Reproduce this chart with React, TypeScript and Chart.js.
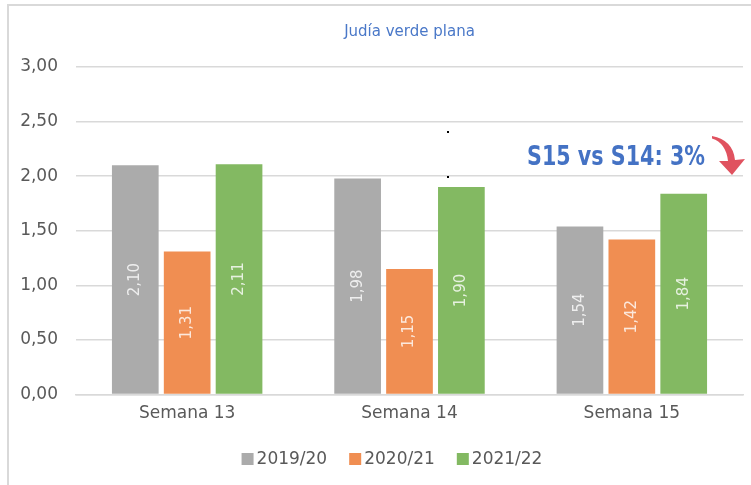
import React, { useEffect, useRef } from "react";
import { Chart, registerables } from "chart.js";

Chart.register(...registerables);

const categories = ["Semana 13", "Semana 14", "Semana 15"];
const seriesLabels = ["2019/20", "2020/21", "2021/22"];
const values1920 = [2.1, 1.98, 1.54];
const values2021 = [1.31, 1.15, 1.42];
const values2122 = [2.11, 1.9, 1.84];
const seriesColors = ["#ABABAB", "#F08E52", "#83B962"];
const yMin = 0;
const yMax = 3;
const yStep = 0.5;
const titleText = "Judía verde plana";
const annotationText = "S15 vs S14: 3%";

const FONT = "'DejaVu Sans', sans-serif";
const fmt = (v: number) => v.toFixed(2).replace(".", ",");

const decorPlugin = {
  id: "decor",
  beforeDraw(chart: any) {
    const ctx = chart.ctx;
    ctx.save();
    ctx.fillStyle = "#ffffff";
    ctx.fillRect(0, 0, chart.width, chart.height);
    ctx.strokeStyle = "#D9D9D9";
    ctx.lineWidth = 2;
    ctx.beginPath();
    ctx.moveTo(8, chart.height);
    ctx.lineTo(8, 5);
    ctx.lineTo(chart.width, 5);
    ctx.stroke();
    ctx.restore();
  },
  afterDatasetsDraw(chart: any) {
    const ctx = chart.ctx;
    const area = chart.chartArea;
    ctx.save();
    // bar value labels
    chart.data.datasets.forEach((ds: any, di: number) => {
      const meta = chart.getDatasetMeta(di);
      meta.data.forEach((el: any, i: number) => {
        const cy = (el.y + el.base) / 2;
        ctx.save();
        ctx.translate(el.x, cy);
        ctx.rotate(-Math.PI / 2);
        ctx.font = `15px ${FONT}`;
        ctx.fillStyle = "rgba(255,255,255,0.8)";
        ctx.textAlign = "center";
        ctx.textBaseline = "middle";
        ctx.fillText(fmt(ds.data[i]), 0, 0);
        ctx.restore();
      });
    });

    // title
    ctx.font = `15px ${FONT}`;
    ctx.fillStyle = "#4A78C8";
    ctx.textAlign = "center";
    ctx.textBaseline = "middle";
    ctx.fillText(titleText, (area.left + area.right) / 2, 32);

    // legend
    ctx.font = `17px ${FONT}`;
    ctx.textBaseline = "middle";
    ctx.textAlign = "left";
    const box = 12;
    const gapBoxText = 3;
    const gapItems = 22;
    const items = chart.data.datasets.map((d: any) => ({
      label: d.label,
      color: d.backgroundColor,
      w: box + gapBoxText + ctx.measureText(d.label).width,
    }));
    const total = items.reduce((s: number, it: any) => s + it.w, 0) + gapItems * (items.length - 1);
    let x = 392 - total / 2;
    const ly = 459;
    items.forEach((it: any) => {
      ctx.fillStyle = it.color;
      ctx.fillRect(x, ly - box / 2, box, box);
      ctx.fillStyle = "#595959";
      ctx.fillText(it.label, x + box + gapBoxText, ly + 1);
      x += it.w + gapItems;
    });

    // annotation (condensed bold text)
    ctx.save();
    ctx.font = `bold 27px 'DejaVu Sans Condensed', 'DejaVu Sans', sans-serif`;
    const tw = ctx.measureText(annotationText).width;
    const sx = 178 / tw;
    ctx.translate(527, 165);
    ctx.scale(sx, 1);
    ctx.fillStyle = "#4472C4";
    ctx.textAlign = "left";
    ctx.textBaseline = "alphabetic";
    ctx.fillText(annotationText, 0, 0);
    ctx.restore();

    // small marker dots
    ctx.fillStyle = "#000000";
    ctx.fillRect(447, 131, 2, 2);
    ctx.fillRect(447, 176, 2, 2);

    // curved arrow
    ctx.fillStyle = "#E0525F";
    ctx.beginPath();
    ctx.moveTo(712, 136);
    ctx.quadraticCurveTo(733, 140, 735, 160);
    ctx.lineTo(745, 159);
    ctx.lineTo(732, 175);
    ctx.lineTo(719, 161);
    ctx.lineTo(728, 161);
    ctx.quadraticCurveTo(726, 143, 712, 138.5);
    ctx.closePath();
    ctx.fill();
    ctx.restore();
  },
};

export default function App() {
  const ref = useRef<HTMLCanvasElement | null>(null);
  useEffect(() => {
    if (!ref.current) return;
    const chart = new Chart(ref.current, {
      type: "bar",
      data: {
        labels: categories,
        datasets: [
          { label: seriesLabels[0], data: values1920, backgroundColor: seriesColors[0] },
          { label: seriesLabels[1], data: values2021, backgroundColor: seriesColors[1] },
          { label: seriesLabels[2], data: values2122, backgroundColor: seriesColors[2] },
        ],
      },
      options: {
        responsive: false,
        animation: false,
        devicePixelRatio: 1,
        layout: { padding: { top: 67, left: 10, right: 8, bottom: 52 } },
        datasets: { bar: { categoryPercentage: 0.7, barPercentage: 0.9 } },
        plugins: {
          legend: { display: false },
          title: { display: false },
          tooltip: { enabled: false },
        },
        scales: {
          x: {
            grid: { display: false, drawTicks: false },
            border: { display: true, color: "#D9D9D9", width: 1.5 },
            ticks: { color: "#595959", font: { family: FONT, size: 17 }, padding: 9 },
          },
          y: {
            min: yMin,
            max: yMax,
            afterFit: (scale: any) => {
              scale.width = 66;
            },
            grid: { color: "#D9D9D9", lineWidth: 1.5, drawTicks: false },
            border: { display: false },
            ticks: {
              stepSize: yStep,
              color: "#595959",
              font: { family: FONT, size: 17 },
              padding: 18,
              callback: (v: any) => fmt(Number(v)),
            },
          },
        },
      },
      plugins: [decorPlugin],
    });
    return () => chart.destroy();
  }, []);
  return (
    <div style={{ position: "fixed", left: 0, top: 0, width: 751, height: 485 }}>
      <canvas ref={ref} width={751} height={485} />
    </div>
  );
}
